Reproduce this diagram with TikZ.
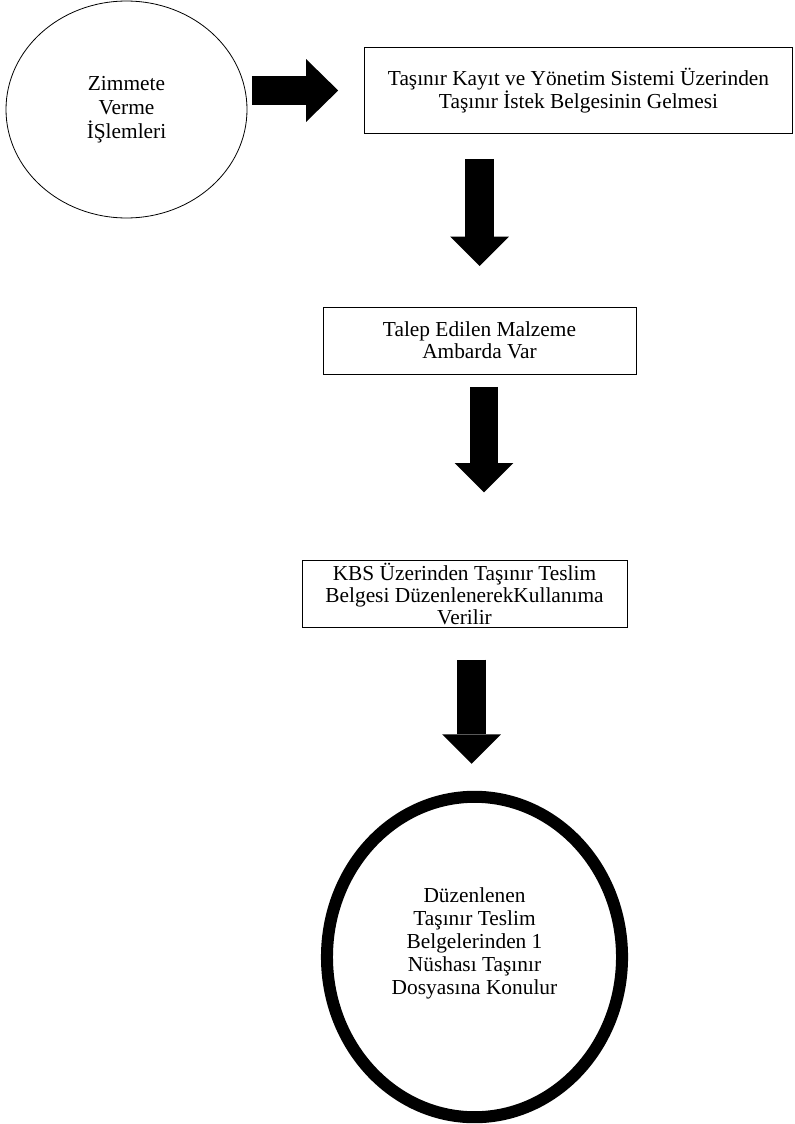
\documentclass[tikz,border=0pt]{standalone}
\usepackage{fontspec}
\setmainfont{Liberation Serif}
\usetikzlibrary{shapes.geometric,arrows.meta}
\begin{document}
\begin{tikzpicture}[x=0.749pt,y=-0.749pt,
  yazi/.style={font=\fontsize{16}{16.5}\selectfont,align=center},
  kutu/.style={draw,line width=0.7pt,rectangle,yazi,inner sep=0pt,outer sep=0pt},
  blok/.style={line width=21.5pt,-{Triangle[length=22pt,width=44pt,line width=0pt]}}]
\useasboundingbox (0,0) rectangle (795,1124);
\node [draw,ellipse,yazi,font=\fontsize{16}{18}\selectfont,line width=0.6pt,outer sep=0pt,minimum width=180.5pt,minimum height=162.5pt] (zimmet) at (126.5,109.5) {Zimmete\\Verme\\İŞlemleri};
\node [kutu,minimum width=321pt,minimum height=65pt] (kayit) at (578.5,90.5) {Taşınır Kayıt ve Yönetim Sistemi Üzerinden\\Taşınır İstek Belgesinin Gelmesi};
\node [kutu,minimum width=234.4pt,minimum height=50.2pt] (talep) at (479.5,340.5) {Talep Edilen Malzeme\\Ambarda Var};
\node [kutu,minimum width=243.4pt,minimum height=50.2pt] (kbs) at (464.5,594) {KBS Üzerinden Taşınır Teslim\\Belgesi DüzenlenerekKullanıma\\Verilir};
\node [draw,ellipse,line width=9pt,outer sep=0pt,minimum width=221pt,minimum height=240pt,
  label={[yazi,font=\fontsize{16}{17.3}\selectfont,yshift=10pt]center:Düzenlenen\\Taşınır Teslim\\Belgelerinden 1\\Nüshası Taşınır\\Dosyasına Konulur}] (nusha) at (474.5,957) {};
% kalin oklar
\draw [blok,-{Triangle[length=24pt,width=47pt,line width=0pt]},shorten <=3.7pt,shorten >=19.5pt] (zimmet.east |- kayit.west) -- (kayit.west);
\draw [blok,shorten <=18.7pt,shorten >=30.7pt] (kayit.south -| talep.north) -- (talep.north);
\draw [blok,shorten <=9.7pt,shorten >=51pt] ([xshift=3.4pt]talep.south) -- ([xshift=3.4pt]talep.south |- kbs.north);
\draw [blok,shorten <=24pt,shorten >=24.7pt] ([xshift=-2.2pt]nusha.north |- kbs.south) -- ([xshift=-2.2pt]nusha.north);
\end{tikzpicture}
\end{document}
